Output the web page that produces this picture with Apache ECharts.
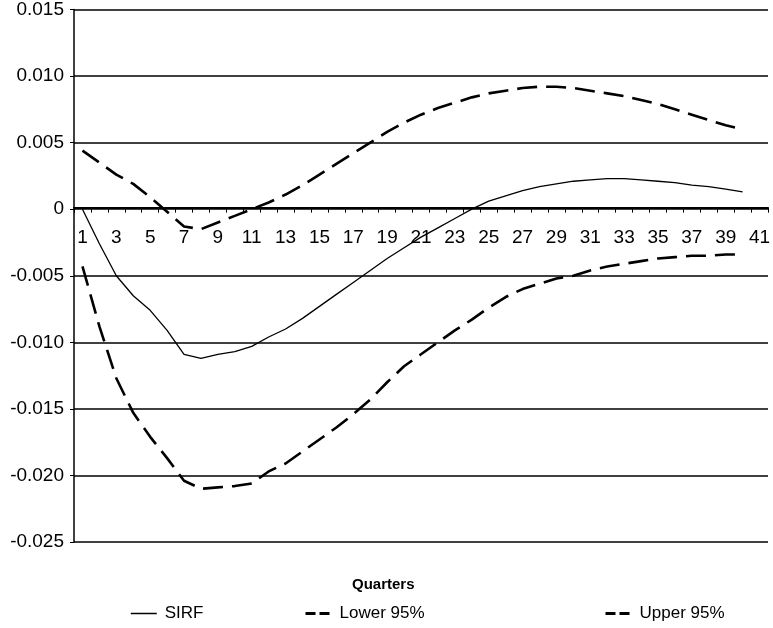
<!DOCTYPE html>
<html>
<head>
<meta charset="utf-8">
<script src="https://cdn.jsdelivr.net/npm/echarts@6/dist/echarts.min.js"></script>
<style>
  html, body { margin: 0; padding: 0; background: #fff; }
  #chart { width: 773px; height: 628px; }
</style>
</head>
<body>
<div id="chart"></div>
<script>
const quarters = ['1','2','3','4','5','6','7','8','9','10','11','12','13','14','15','16','17','18','19','20',
  '21','22','23','24','25','26','27','28','29','30','31','32','33','34','35','36','37','38','39','40','41'];

const sirf = [0.0000, -0.0026, -0.0050, -0.0065, -0.0076, -0.0091, -0.0109, -0.0112, -0.0109, -0.0107,
  -0.0103, -0.0096, -0.0090, -0.0082, -0.0073, -0.0064, -0.0055, -0.0046, -0.0037, -0.0029,
  -0.0021, -0.0014, -0.0007, 0.0000, 0.0006, 0.0010, 0.0014, 0.0017, 0.0019, 0.0021,
  0.0022, 0.0023, 0.0023, 0.0022, 0.0021, 0.0020, 0.0018, 0.0017, 0.0015, 0.0013];

const lower95 = [-0.0043, -0.0088, -0.0127, -0.0153, -0.0171, -0.0187, -0.0204, -0.0210, -0.0209, -0.0208,
  -0.0206, -0.0197, -0.0191, -0.0182, -0.0173, -0.0164, -0.0154, -0.0143, -0.0130, -0.0118,
  -0.0109, -0.0100, -0.0091, -0.0083, -0.0074, -0.0066, -0.0060, -0.0056, -0.0052, -0.0050,
  -0.0046, -0.0043, -0.0041, -0.0039, -0.0037, -0.0036, -0.0035, -0.0035, -0.0034, -0.0034];

const upper95 = [0.0044, 0.0035, 0.0026, 0.0019, 0.0009, -0.0002, -0.0013, -0.0015, -0.0010, -0.0005,
  0.0000, 0.0005, 0.0011, 0.0018, 0.0026, 0.0034, 0.0042, 0.0050, 0.0058, 0.0065,
  0.0071, 0.0076, 0.0080, 0.0084, 0.0087, 0.0089, 0.0091, 0.0092, 0.0092, 0.0091,
  0.0089, 0.0087, 0.0085, 0.0082, 0.0079, 0.0075, 0.0071, 0.0067, 0.0063, 0.0060];

const seriesNames = ['SIRF', 'Lower 95%', 'Upper 95%'];
const xTitle = 'Quarters';

const FONT = 'Liberation Sans, Arial, sans-serif';
const chart = echarts.init(document.getElementById('chart'), null, { renderer: 'canvas' });

const Y_MIN = -0.025, Y_MAX = 0.015;
const GRID_TOP = 7, GRID_H = 535;
// distance from bottom of grid to the zero line (axis crosses at zero)
const zeroOffset = -GRID_H * (0 - Y_MIN) / (Y_MAX - Y_MIN);

const legendBase = {
  top: 600,
  itemWidth: 26,
  itemHeight: 10,
  itemStyle: { opacity: 0 },
  textStyle: { fontFamily: FONT, fontSize: 17, color: '#000', padding: [0, 0, 0, 3] },
  selectedMode: false
};

chart.setOption({
  animation: false,
  backgroundColor: '#fff',
  title: {
    text: xTitle,
    left: 352,
    top: 577,
    padding: 0,
    textStyle: { fontFamily: FONT, fontSize: 15, fontWeight: 'bold', color: '#000' }
  },
  legend: [
    Object.assign({}, legendBase, { left: 125, data: [seriesNames[0]], lineStyle: { width: 1.5, type: 'solid' } }),
    Object.assign({}, legendBase, { left: 299, data: [seriesNames[1]], lineStyle: { width: 3, type: [10, 4] } }),
    Object.assign({}, legendBase, { left: 599, data: [seriesNames[2]], lineStyle: { width: 3, type: [10, 4] } })
  ],
  grid: { left: 74, top: GRID_TOP, width: 704, height: GRID_H, containLabel: false },
  xAxis: {
    type: 'category',
    data: quarters,
    boundaryGap: true,
    position: 'bottom',
    offset: zeroOffset,
    axisLine: { onZero: false, lineStyle: { color: '#000', width: 2 } },
    axisTick: { show: true, interval: 0, length: 5, alignWithLabel: false, lineStyle: { color: '#000', width: 1 } },
    axisLabel: { interval: 1, margin: 21, fontFamily: FONT, fontSize: 19, color: '#000' },
    splitLine: { show: false }
  },
  yAxis: {
    type: 'value',
    min: Y_MIN,
    max: Y_MAX,
    interval: 0.005,
    axisLine: { show: true, lineStyle: { color: '#000', width: 1.5 } },
    axisTick: { show: true, length: 4, lineStyle: { color: '#000', width: 1 } },
    axisLabel: {
      margin: 10, fontFamily: FONT, fontSize: 19, color: '#000',
      formatter: v => Math.abs(v) < 1e-9 ? '0' : v.toFixed(3)
    },
    splitLine: { show: true, lineStyle: { color: '#000', width: 1.6 } }
  },
  series: [
    { name: seriesNames[0], type: 'line', data: sirf, symbol: 'none', smooth: false,
      lineStyle: { color: '#000', width: 1.3, type: 'solid' }, itemStyle: { color: '#000' } },
    { name: seriesNames[1], type: 'line', data: lower95, symbol: 'none', smooth: false,
      lineStyle: { color: '#000', width: 2.6, type: [20, 9] }, itemStyle: { color: '#000' } },
    { name: seriesNames[2], type: 'line', data: upper95, symbol: 'none', smooth: false,
      lineStyle: { color: '#000', width: 2.6, type: [20, 9] }, itemStyle: { color: '#000' } }
  ]
});
</script>
</body>
</html>
